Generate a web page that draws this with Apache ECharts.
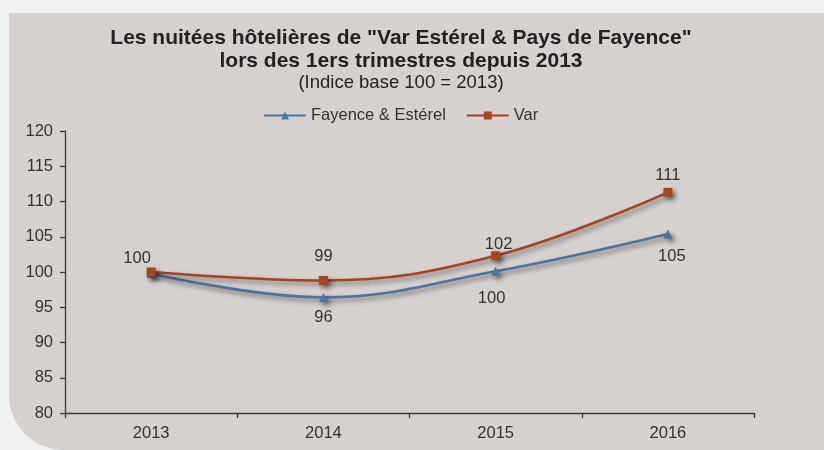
<!DOCTYPE html>
<html>
<head>
<meta charset="utf-8">
<script src="https://cdn.jsdelivr.net/npm/echarts@6/dist/echarts.min.js"></script>
<style>
  html, body { margin: 0; padding: 0; background: #eff2f1; }
  #chart { width: 824px; height: 450px; }
</style>
</head>
<body>
<div id="chart"></div>
<script>
// ---- Data ----
const years = ['2013', '2014', '2015', '2016'];
const fayenceValues = [99.8, 96.4, 100.1, 105.4];
const varValues = [100.0, 98.8, 102.3, 111.3];
const fayenceLabels = ['', '96', '100', '105'];
const varLabels = ['100', '99', '102', '111'];
const yTicks = [80, 85, 90, 95, 100, 105, 110, 115, 120];

// ---- Styling ----
const FONT = "'Liberation Sans', Arial, sans-serif";
const TEXT = '#333333';
const VAR_COLOR = '#a5451f';
const FAY_COLOR = '#4d74a0';
const varLabelOffsets = [[-14, -14], [0, -24], [3, -11], [0, -17]];
const fayLabelOffsets = [[0, 0], [0, 20], [-4, 27], [4, 23]];

const chart = echarts.init(document.getElementById('chart'), null, { renderer: 'canvas' });

function buildData(values, labels, offsets) {
  return values.map((v, i) => ({
    value: v,
    label: {
      show: labels[i] !== '',
      formatter: labels[i],
      position: 'inside',
      offset: offsets[i]
    }
  }));
}

const shadow = {
  shadowColor: 'rgba(0,0,0,0.5)',
  shadowBlur: 5,
  shadowOffsetX: 3,
  shadowOffsetY: 3
};

const option = {
  backgroundColor: 'transparent',
  animation: false,
  textStyle: { fontFamily: FONT },
  graphic: [{
    type: 'rect',
    z: -10,
    silent: true,
    shape: { x: 9, y: 13, width: 815, height: 437, r: [0, 0, 0, 55] },
    style: { fill: '#d6d1ce' }
  }],
  title: {
    text: 'Les nuitées hôtelières de "Var Estérel & Pays de Fayence"\nlors des 1ers trimestres depuis 2013',
    subtext: '(Indice base 100 = 2013)',
    left: 401,
    top: 27,
    padding: 0,
    textAlign: 'center',
    itemGap: 0,
    textStyle: { fontFamily: FONT, fontSize: 21, fontWeight: 'bold', color: '#222222', lineHeight: 23 },
    subtextStyle: { fontFamily: FONT, fontSize: 18.5, color: '#222222', lineHeight: 20 }
  },
  legend: {
    left: 263,
    top: 107,
    padding: 0,
    itemWidth: 42,
    itemHeight: 10,
    itemGap: 20,
    textStyle: { fontFamily: FONT, fontSize: 16.5, color: TEXT },
    data: ['Fayence & Estérel', 'Var']
  },
  grid: { left: 65, right: 70, top: 131, bottom: 37, containLabel: false },
  xAxis: {
    type: 'category',
    data: years,
    boundaryGap: true,
    axisLine: { show: true, lineStyle: { color: '#3a3a3a', width: 1.3 } },
    axisTick: { show: true, length: 5, lineStyle: { color: '#3a3a3a', width: 1.3 } },
    axisLabel: { fontFamily: FONT, fontSize: 16.5, color: TEXT, margin: 12 },
    splitLine: { show: false }
  },
  yAxis: {
    type: 'value',
    min: yTicks[0],
    max: yTicks[yTicks.length - 1],
    interval: yTicks[1] - yTicks[0],
    axisLine: { show: true, lineStyle: { color: '#3a3a3a', width: 1.3 } },
    axisTick: { show: true, length: 5, lineStyle: { color: '#3a3a3a', width: 1.3 } },
    axisLabel: { fontFamily: FONT, fontSize: 16.5, color: TEXT, margin: 12 },
    splitLine: { show: false }
  },
  series: [
    {
      name: 'Fayence & Estérel',
      type: 'line',
      smooth: 0.4,
      data: buildData(fayenceValues, fayenceLabels, fayLabelOffsets),
      symbol: 'triangle',
      symbolSize: 9,
      color: FAY_COLOR,
      lineStyle: Object.assign({ color: FAY_COLOR, width: 2.6 }, shadow),
      itemStyle: Object.assign({ color: FAY_COLOR }, shadow),
      label: { fontFamily: FONT, fontSize: 16.5, color: TEXT },
      z: 2
    },
    {
      name: 'Var',
      type: 'line',
      smooth: 0.4,
      data: buildData(varValues, varLabels, varLabelOffsets),
      symbol: 'rect',
      symbolSize: 9,
      color: VAR_COLOR,
      lineStyle: Object.assign({ color: VAR_COLOR, width: 2.6 }, shadow),
      itemStyle: Object.assign({ color: VAR_COLOR }, shadow),
      label: { fontFamily: FONT, fontSize: 16.5, color: TEXT },
      z: 3
    }
  ]
};

chart.setOption(option);
</script>
</body>
</html>
